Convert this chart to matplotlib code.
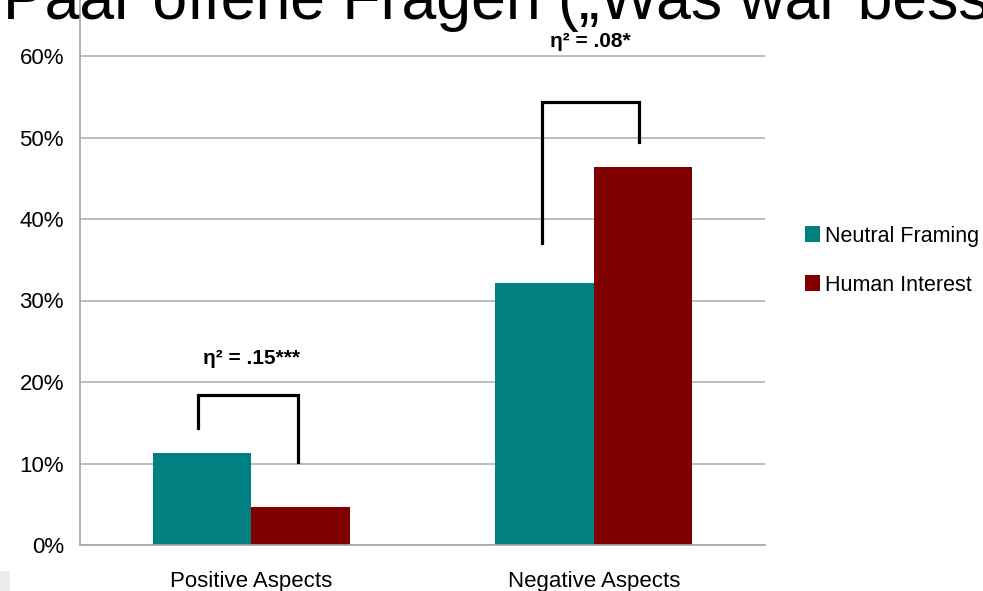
import matplotlib
matplotlib.use('Agg')
import matplotlib.pyplot as plt
from matplotlib.patches import Rectangle
import numpy as np

plt.rcParams['font.family'] = ['Liberation Sans', 'DejaVu Sans']

categories = ['Positive Aspects', 'Negative Aspects']
series_names = ['Neutral Framing', 'Human Interest']
neutral = [11.3, 32.1]
human = [4.7, 46.4]
y_ticks = [0, 10, 20, 30, 40, 50, 60]
effects = ['η² = .15***', 'η² = .08*']

# brackets: left x, right x, left bottom, top, right bottom (percent)
brackets = [
    (-0.155, 0.137, 14.4, 18.4, 10.2),
    (0.849, 1.132, 37.1, 54.4, 49.4),
]
effect_pos = [(0.0, 22.9), (0.99, 61.8)]

teal = '#008080'
maroon = '#800000'

fig = plt.figure(figsize=(9.83, 5.91), dpi=100)
ax = fig.add_axes([80 / 983, 46 / 591, 685 / 983, 545 / 591])

x = np.arange(len(categories))
w = 0.287
ax.bar(x - w / 2, neutral, w, color=teal, label=series_names[0], zorder=2)
ax.bar(x + w / 2, human, w, color=maroon, label=series_names[1], zorder=2)

ax.set_xlim(-0.5, 1.5)
ax.set_ylim(0, 545 / 8.15)
ax.set_yticks(y_ticks)
ax.set_yticklabels(['{}%'.format(t) for t in y_ticks], fontsize=16)
ax.set_xticks(x)
ax.set_xticklabels(categories, fontsize=16)
ax.tick_params(axis='both', length=0)
ax.tick_params(axis='y', pad=11.5)
ax.tick_params(axis='x', pad=19)
ax.yaxis.grid(True, color='#b3b3b3', linewidth=1.2, zorder=0)
ax.set_axisbelow(True)
for side in ['top', 'right']:
    ax.spines[side].set_visible(False)
for side in ['left', 'bottom']:
    ax.spines[side].set_color('#a6a6a6')
    ax.spines[side].set_linewidth(1.2)

for (xl, xr, yl, yt, yr), txt, (tx, ty) in zip(brackets, effects, effect_pos):
    ax.plot([xl, xl, xr, xr], [yl, yt, yt, yr], color='black', linewidth=2.3,
            solid_joinstyle='miter', zorder=3, clip_on=False)
    ax.text(tx, ty, txt, ha='center', va='center', fontsize=15,
            fontweight='bold', zorder=4)

ax.legend(loc='center left', bbox_to_anchor=(1.03, 0.522), frameon=False,
          fontsize=15.5, handlelength=0.7, handleheight=0.7, handletextpad=0.25,
          labelspacing=1.3)

fig.text(3 / 983, 1 - 19 / 591, 'Paar offene Fragen („Was war besser?“)',
         fontsize=45, ha='left', va='baseline', zorder=5)

fig.patches.append(Rectangle((0, 0), 10 / 983, 20 / 591, transform=fig.transFigure,
                             facecolor='#ececec', edgecolor='none'))

fig.savefig('out.png', dpi=100)
